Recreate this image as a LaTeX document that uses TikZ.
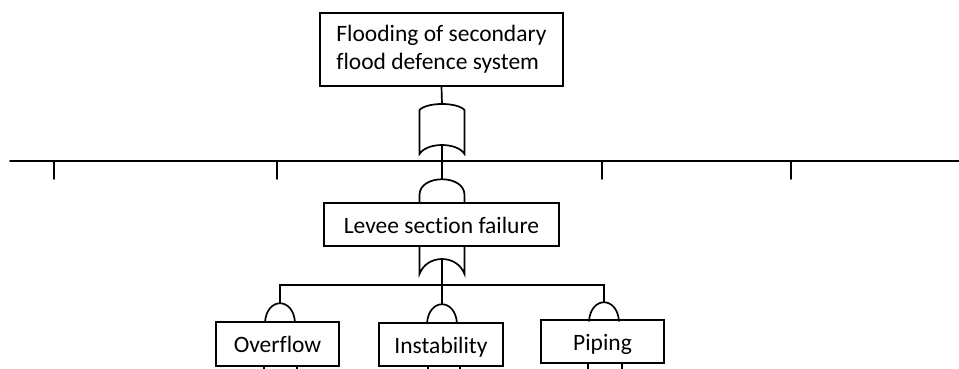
\documentclass[tikz,border=0pt]{standalone}
\usepackage{fontspec}
\setmainfont{Carlito}[Ligatures=NoCommon]
\begin{document}
\begin{tikzpicture}[x=1pt,y=-1pt]
\tikzset{ wire/.style={line width=1.7pt, line cap=round},
  event/.style={draw, line width=1.7pt, inner sep=0pt, font=\fontsize{23.5}{28}\selectfont},
  oneline/.style={text height=20pt, text depth=3pt},
  orgate/.pic={
    \draw [wire] (-22.5,6) .. controls (-15,-2) and (15,-2) .. (22.5,6) -- (22.5,50)
                 .. controls (15,38) and (-15,38) .. (-22.5,50) -- cycle;
    \coordinate (-in) at (0,0);
    \coordinate (-out) at (0,41);
  },
  orfoot/.pic={
    \draw [wire] (-22.5,0) -- (-22.5,28) .. controls (-15,8) and (15,8) .. (22.5,28) -- (22.5,0);
    \coordinate (-out) at (0,13);
  },
  bigand/.pic={
    \draw [wire] (-22.5,24) -- (-22.5,16) .. controls (-22.5,-5) and (22.5,-5) .. (22.5,16) -- (22.5,24);
    \coordinate (-in) at (0,0);
  },
  smalland/.pic={
    \draw [wire] (-15,19) .. controls (-13,-6) and (13,-6) .. (15,19);
    \coordinate (-in) at (0,0);
  },
}
\useasboundingbox (0,0) rectangle (959,368);
%\draw [lightgray, dashed](0,0) grid [step=50] (959,368);

\node [event, minimum width=243pt, minimum height=73pt, align=left] (top) at (441.5,49.5)
  {Flooding of secondary\\flood defence system};
\node [event, oneline, minimum width=235pt, minimum height=43pt] (levee) at (441.5,224.5) {Levee section failure};
\node [event, oneline, minimum width=123pt, minimum height=44pt] (over) at (277.5,344) {Overflow};
\node [event, oneline, minimum width=124pt, minimum height=43pt] (inst) at (441,344.5) {Instability};
\node [event, oneline, minimum width=123pt, minimum height=43pt] (pipe) at (602.5,341.5) {Piping};

\pic (or1) at (442,104) {orgate};
\pic (and1) at (442,179) {bigand};
\pic (or2) at (442,246) {orfoot};
\pic (and2) at (280,303) {smalland};
\pic (and3) at (442,304) {smalland};
\pic (and4) at (604,302) {smalland};

% system line
\coordinate (sysL) at (10,161);
\coordinate (sysR) at (962,161);
\draw [wire] (sysL) -- (sysR);
\foreach \x in {54,277,602,791} {
  \coordinate (tick\x) at (\x,179);
  \draw [wire] (tick\x |- sysL) -- (tick\x);
}

\draw [wire] (top.south) -- (or1-in);
\draw [wire] (or1-out) -- (and1-in);

\coordinate (busL) at (280,285);
\coordinate (busR) at (604,285);
\draw [wire] (or2-out) -- (and3-in);
\draw [wire] (and2-in) -- (busL) -- (busR) -- (and4-in);

% lower stubs
\coordinate (ovA) at (264,372);
\coordinate (ovB) at (297,372);
\coordinate (inA) at (428,372);
\coordinate (inB) at (460,372);
\coordinate (piA) at (588,372);
\coordinate (piB) at (622,372);
\draw [wire] (ovA |- over.south) -- (ovA);
\draw [wire] (ovB |- over.south) -- (ovB);
\draw [wire] (inA |- inst.south) -- (inA);
\draw [wire] (inB |- inst.south) -- (inB);
\draw [wire] (piA |- pipe.south) -- (piA);
\draw [wire] (piB |- pipe.south) -- (piB);

\end{tikzpicture}
\end{document}
